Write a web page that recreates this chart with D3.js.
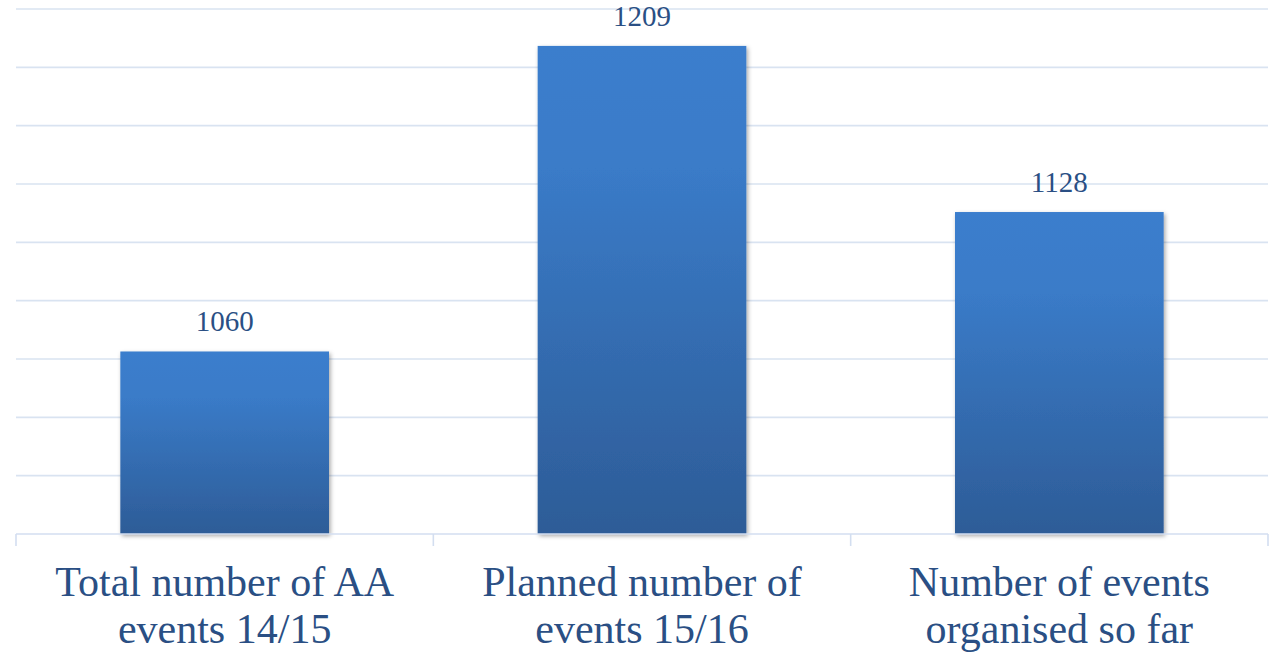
<!DOCTYPE html>
<html><head><meta charset="utf-8">
<script src="https://cdn.jsdelivr.net/npm/d3@7"></script>
<style>html,body{margin:0;padding:0;background:#fff;}svg{display:block;}</style>
</head><body>
<svg id="chart" width="1272" height="655"></svg>
<script>
const categories = [
  ["Total number of AA", "events 14/15"],
  ["Planned number of", "events 15/16"],
  ["Number of events", "organised so far"]
];
const values = [1060, 1209, 1128];
const yDomain = [971, 1227];
const gridCount = 9;

const svg = d3.select("#chart");
const mLeft = 16, mRight = 1268, mTop = 9, mBottom = 534;

const x = d3.scaleBand().domain(d3.range(categories.length)).range([mLeft, mRight]).paddingInner(0.5).paddingOuter(0.25);
const xOuter = d3.scaleBand().domain(d3.range(categories.length)).range([mLeft, mRight]);
const y = d3.scaleLinear().domain(yDomain).range([mBottom, mTop]);

const defs = svg.append("defs");
const grad = defs.append("linearGradient").attr("id", "barGrad").attr("x1", 0).attr("y1", 0).attr("x2", 0).attr("y2", 1);
grad.append("stop").attr("offset", "0%").attr("stop-color", "#3b7ecd");
grad.append("stop").attr("offset", "25%").attr("stop-color", "#3a7bc8");
grad.append("stop").attr("offset", "100%").attr("stop-color", "#2d5c97");
const f = defs.append("filter").attr("id", "shadow").attr("x", "-10%").attr("y", "-10%").attr("width", "125%").attr("height", "125%");
f.append("feDropShadow").attr("dx", 1.5).attr("dy", 2).attr("stdDeviation", 2).attr("flood-color", "#000").attr("flood-opacity", 0.35);

// gridlines
const step = (yDomain[1] - yDomain[0]) / gridCount;
const gridVals = d3.range(1, gridCount + 1).map(i => yDomain[0] + i * step);
svg.append("g").selectAll("line").data(gridVals).join("line")
  .attr("x1", mLeft).attr("x2", mRight)
  .attr("y1", d => y(d)).attr("y2", d => y(d))
  .attr("stroke", "#d9e3f1").attr("stroke-width", 1.6);

// bars
svg.append("g").selectAll("rect").data(values).join("rect")
  .attr("x", (d, i) => x(i)).attr("width", x.bandwidth())
  .attr("y", d => y(d)).attr("height", d => mBottom - y(d))
  .attr("fill", "url(#barGrad)").attr("filter", "url(#shadow)");

// axis line + ticks
const ax = svg.append("g");
ax.append("line").attr("x1", mLeft).attr("x2", mRight).attr("y1", mBottom).attr("y2", mBottom)
  .attr("stroke", "#d3def0").attr("stroke-width", 1.6);
const tickXs = d3.range(categories.length).map(i => xOuter(i)).concat([mRight]);
ax.selectAll("line.tick").data(tickXs).join("line").attr("class", "tick")
  .attr("x1", d => d).attr("x2", d => d).attr("y1", mBottom).attr("y2", mBottom + 12)
  .attr("stroke", "#d3def0").attr("stroke-width", 1.6);

const font = "Liberation Serif, DejaVu Serif, Noto Serif, Times New Roman, serif";
const col = "#2a4f84";

// value labels
svg.append("g").selectAll("text").data(values).join("text")
  .attr("x", (d, i) => x(i) + x.bandwidth() / 2)
  .attr("y", d => y(d) - 20)
  .attr("text-anchor", "middle")
  .style("font-family", font).attr("font-size", 29).attr("fill", col)
  .text(d => d);

// category labels
const cg = svg.append("g");
categories.forEach((lines, i) => {
  const t = cg.append("text").attr("text-anchor", "middle")
    .style("font-family", font).attr("font-size", 42).attr("fill", col);
  lines.forEach((ln, j) => {
    t.append("tspan").attr("x", xOuter(i) + xOuter.bandwidth() / 2).attr("y", 596 + j * 46.5).text(ln);
  });
});
</script>
</body></html>
